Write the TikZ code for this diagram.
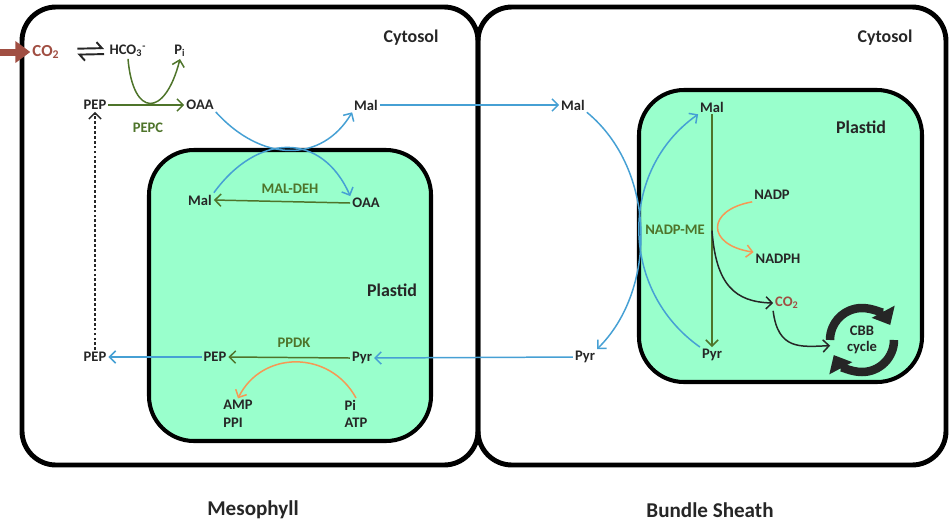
\documentclass[tikz,border=0pt]{standalone}
\definecolor{co2brown}{RGB}{160, 78, 66}
\definecolor{enzgreen}{RGB}{78, 116, 42}
\definecolor{flowblue}{RGB}{70, 160, 212}
\definecolor{energyorange}{RGB}{246, 152, 84}
\definecolor{plastidmint}{RGB}{153, 255, 204}
\definecolor{labelgray}{RGB}{38, 38, 38}
\usepackage{fontspec}
\setmainfont{Carlito}
\usepackage{tikz}
\usetikzlibrary{arrows.meta, calc}

\tikzset{
  cell/.style={draw=black, line width=2.8pt, rounded corners=0.68cm},
  plastid/.style={draw=black, line width=2.3pt, fill=plastidmint, rounded corners=0.9cm},
  metab/.style={text=labelgray, font=\fontsize{8.3}{10}\selectfont\bfseries, inner sep=1pt},
  enzyme/.style={text=enzgreen, font=\fontsize{8.3}{10}\selectfont\bfseries, inner sep=1pt},
  compart/.style={text=labelgray, font=\fontsize{10.2}{12}\selectfont\bfseries},
  celltitle/.style={text=labelgray, font=\fontsize{12}{14}\selectfont\bfseries},
  barb/.style={-{Straight Barb[length=3.5pt, width=7pt]}, line width=0.85pt},
  blueflow/.style={barb, draw=flowblue},
  greenflow/.style={barb, draw=enzgreen},
  orangeflow/.style={barb, draw=energyorange},
  blackflow/.style={barb, draw=labelgray},
  equil/.style={draw=labelgray, line width=1.1pt, -{Straight Barb[harpoon, length=3pt, width=7pt]}},
  cbbring/.style={draw=labelgray, line width=0.17cm, -{Triangle[length=0.3cm, width=0.5cm]}}
}

\begin{document}
\begin{tikzpicture}[x=0.02cm, y=-0.02cm]
  \useasboundingbox (0,0) rectangle (951,529);

  % cells and plastids
  \draw[cell] (22,7) rectangle (478,465);
  \draw[cell] (478,7) rectangle (946,465);
  \draw[plastid] (149,150) rectangle (431,441);
  \draw[plastid] (639,90) rectangle (922,382);

  \node[compart] (cyt1) at (411,38) {Cytosol};
  \node[compart] (cyt2) at (885,38) {Cytosol};
  \node[compart] (plas1) at (392,290) {Plastid};
  \node[compart] (plas2) at (861,127) {Plastid};

  % Mesophyll cytosol
  \coordinate (co2src) at (0,52);
  \node[metab, text=co2brown, font=\fontsize{9.6}{11}\selectfont\bfseries] (co2a) at (46,52) {CO\textsubscript{2}};
  \node[metab] (hco3) at (128,51) {HCO\textsubscript{3}\textsuperscript{-}};
  \node[metab] (pi1) at (180,51) {P\textsubscript{i}};
  \node[metab] (pep1) at (95,105) {PEP};
  \node[metab] (oaa1) at (200,105) {OAA};
  \node[enzyme] (pepc) at (148,128) {PEPC};
  \node[metab] (mal1) at (366,105) {Mal};
  \node[metab] (pep2) at (95,357) {PEP};

  \draw[-{Triangle[length=0.3cm, width=0.42cm]}, line width=0.14cm, co2brown] (co2src) -- (co2a.west);
  \draw[equil, shorten <=9pt, shorten >=2pt] ([yshift=1.7pt]co2a.east) -- ([yshift=1.7pt]hco3.west);
  \draw[equil, shorten >=9pt, shorten <=2pt] ([yshift=-1.7pt]hco3.west) -- ([yshift=-1.7pt]co2a.east);
  \draw[greenflow] (pep1.east) -- (oaa1.west);
  \draw[greenflow] (hco3.south) .. controls (133,118) and (165,118) .. (pi1.south);
  \draw[barb, labelgray, dash pattern=on 1.6pt off 1.2pt] (pep2.north) -- (pep1.south);

  % Mesophyll plastid
  \node[metab] (pmal) at (200,200) {Mal};
  \node[metab] (poaa) at (366,203) {OAA};
  \node[enzyme] (maldeh) at (290,189) {MAL-DEH};
  \node[enzyme] (ppdk) at (294,343) {PPDK};
  \node[metab] (ppep) at (215,357) {PEP};
  \node[metab] (ppyr) at (362,358) {Pyr};
  \node[metab, align=left] (amp) at (238,414) {AMP\\PPI};
  \node[metab, align=left] (pi2) at (356,414) {Pi\\ATP};

  \draw[greenflow] (poaa.west) -- (pmal.east);
  \draw[greenflow] (ppyr.west) -- (ppep.east);
  \draw[orangeflow] (pi2.north) .. controls (330,350) and (262,350) .. (amp.north);

  % exchange across the plastid envelope
  \draw[blueflow] (oaa1.south east) .. controls (262,163) and (322,163) .. (mal1.south west);
  \draw[blueflow] (pmal.north east) .. controls (258,132) and (322,132) .. (poaa.north west);
  \draw[blueflow] (ppep.west) -- (pep2.east);

  % Bundle sheath cytosol
  \node[metab] (mal2) at (573,105) {Mal};
  \node[metab] (pyr1) at (585,357) {Pyr};
  \draw[blueflow] (mal1.east) -- (mal2.west);
  \draw[blueflow] (pyr1.west) -- (ppyr.east);
  \draw[blueflow] (mal2.south east) .. controls (657,170) and (657,290) .. (pyr1.north east);

  % Bundle sheath plastid
  \node[metab] (rmal) at (712,107) {Mal};
  \node[metab] (rpyr) at (712,355) {Pyr};
  \node[enzyme] (nadpme) at (675,230) {NADP-ME};
  \node[metab] (nadp) at (772,195) {NADP};
  \node[metab] (nadph) at (778,259) {NADPH};
  \node[metab, text=co2brown] (co2b) at (787,303) {CO\textsubscript{2}};
  \node[metab, circle, minimum size=1.28cm, inner sep=0pt, align=center] (cbb) at (862,340) {CBB\\[-1pt]cycle};
  \coordinate (mebranch) at ($(rmal.south)!0.5!(rpyr.north)$);

  \draw[blueflow] (rpyr.north west) .. controls (619,290) and (619,170) .. (rmal.south west);
  \draw[greenflow] (rmal.south) -- (rpyr.north);
  \draw[orangeflow] (nadp.south west) .. controls (706,210) and (706,245) .. (nadph.north west);
  \draw[blackflow] (mebranch) .. controls (716,285) and (735,302) .. (co2b.west);
  \draw[blackflow] (co2b.south west) .. controls (778,350) and (800,347) .. (cbb.190);

  % CBB cycle arrows
  \begin{scope}[shift={(cbb.center)}, x=1cm, y=1cm]
    \draw[cbbring] (180:0.64) arc[start angle=180, end angle=28, radius=0.64];
    \draw[cbbring] (0:0.64) arc[start angle=0, end angle=-152, radius=0.64];
  \end{scope}

  % cell names
  \node[celltitle] (meso) at (253,510) {Mesophyll};
  \node[celltitle] (bundle) at (710,510) {Bundle Sheath};
\end{tikzpicture}
\end{document}
